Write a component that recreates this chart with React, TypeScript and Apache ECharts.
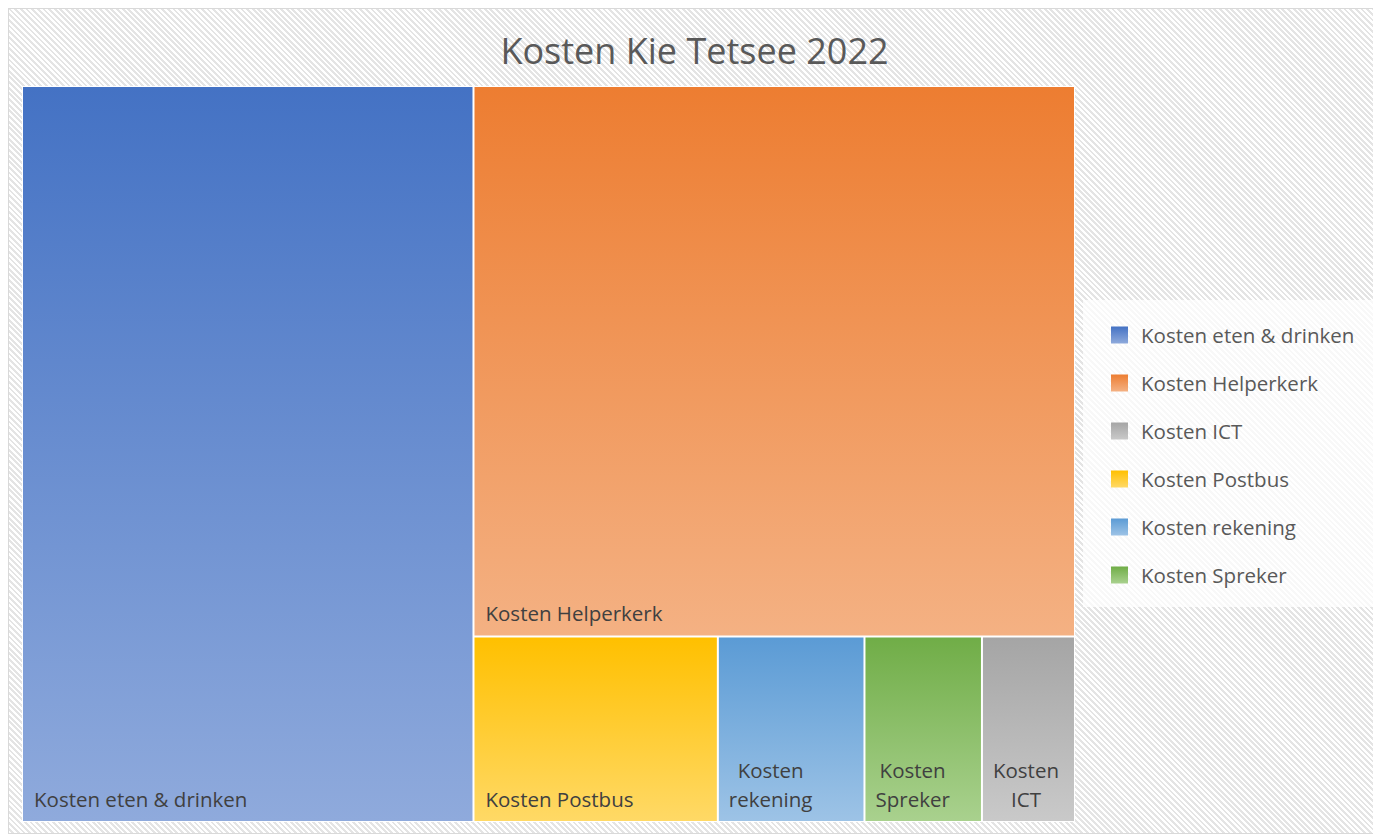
import React, { useEffect, useRef } from "react";
import * as echarts from "echarts";

const titleText = "Kosten Kie Tetsee 2022";
const categories = [
  "Kosten eten & drinken",
  "Kosten Helperkerk",
  "Kosten Postbus",
  "Kosten rekening",
  "Kosten Spreker",
  "Kosten ICT",
];
const values = [1905, 1898, 260, 156, 125, 99];
const legendOrder = [
  "Kosten eten & drinken",
  "Kosten Helperkerk",
  "Kosten ICT",
  "Kosten Postbus",
  "Kosten rekening",
  "Kosten Spreker",
];
const topColors: Record<string, string> = {
  "Kosten eten & drinken": "#4472C4",
  "Kosten Helperkerk": "#ED7D31",
  "Kosten ICT": "#A5A5A5",
  "Kosten Postbus": "#FFC000",
  "Kosten rekening": "#5B9BD5",
  "Kosten Spreker": "#70AD47",
};
const bottomColors: Record<string, string> = {
  "Kosten eten & drinken": "#8FAADC",
  "Kosten Helperkerk": "#F4B183",
  "Kosten ICT": "#C9C9C9",
  "Kosten Postbus": "#FFD966",
  "Kosten rekening": "#9DC3E6",
  "Kosten Spreker": "#A9D18E",
};

const FONT = '"Open Sans", "DejaVu Sans", sans-serif';
const LABEL_SIZE = 20.5;

function grad(name: string) {
  return new echarts.graphic.LinearGradient(0, 0, 0, 1, [
    { offset: 0, color: topColors[name] },
    { offset: 1, color: bottomColors[name] },
  ]);
}

function measure(text: string): number {
  const ctx = document.createElement("canvas").getContext("2d");
  if (!ctx) return text.length * LABEL_SIZE * 0.5;
  ctx.font = `${LABEL_SIZE}px "Open Sans"`;
  return ctx.measureText(text).width;
}

export default function App() {
  const ref = useRef<HTMLDivElement>(null);

  useEffect(() => {
    document.documentElement.style.overflow = "hidden";
    if (!ref.current) return;
    const chart = echarts.init(ref.current, undefined, { renderer: "svg" });
    const total = values.reduce((a, b) => a + b, 0);

    const data = categories.map((name, i) => {
      const wrapped = values[i] / total < 0.05;
      const lines = wrapped ? name.split(" ") : [name];
      const half = Math.max(...lines.map(measure)) / 2;
      return {
        name,
        value: values[i],
        itemStyle: { color: grad(name) },
        label: wrapped
          ? { formatter: lines.join("\n"), align: "center", offset: [10 + half, -8] }
          : { offset: [11, -8] },
      };
    });

    const legendEls: any[] = [
      {
        type: "rect",
        shape: { x: 1074, y: 291, width: 300, height: 307 },
        style: { fill: "rgba(255,255,255,0.72)" },
        silent: true,
      },
    ];
    legendOrder.forEach((name, i) => {
      const cy = 326 + 48 * i;
      legendEls.push({
        type: "rect",
        shape: { x: 1102, y: cy - 8.5, width: 17, height: 17 },
        style: { fill: grad(name) },
        silent: true,
      });
      legendEls.push({
        type: "text",
        x: 1132,
        y: cy,
        style: {
          text: name,
          fill: "#595959",
          font: `${LABEL_SIZE}px ${FONT}`,
          verticalAlign: "middle",
          align: "left",
        },
        silent: true,
      });
    });

    chart.setOption({
      animation: false,
      backgroundColor: "transparent",
      title: {
        text: titleText,
        left: "center",
        top: 14,
        textStyle: {
          fontFamily: FONT,
          fontSize: 36,
          fontWeight: "normal",
          color: "#595959",
          lineHeight: 44,
        },
      },
      graphic: legendEls,
      series: [
        {
          type: "treemap",
          left: 13,
          top: 77,
          width: 1053,
          height: 736,
          squareRatio: 1,
          roam: false,
          nodeClick: false,
          breadcrumb: { show: false },
          label: {
            show: true,
            position: "insideBottomLeft",
            distance: 0,
            padding: 0,
            overflow: "none",
            color: "#404040",
            fontFamily: FONT,
            fontSize: LABEL_SIZE,
            lineHeight: 29,
          },
          levels: [
            { itemStyle: { borderColor: "#ffffff", borderWidth: 1, gapWidth: 2 } },
            { itemStyle: { borderWidth: 0 } },
          ],
          data,
        },
      ],
    });
    return () => chart.dispose();
  }, []);

  return (
    <div
      ref={ref}
      style={{
        width: 1373,
        height: 826,
        boxSizing: "border-box",
        border: "1px solid #d9d9d9",
        background:
          "repeating-linear-gradient(45deg, #ffffff 0px, #ffffff 2px, #e4e4e4 2px, #e4e4e4 4px)",
      }}
    />
  );
}
